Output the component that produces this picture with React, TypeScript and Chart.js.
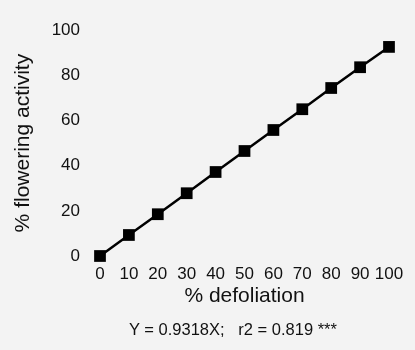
import { useEffect, useRef } from "react";
import { Chart, registerables } from "chart.js";

Chart.register(...registerables);

const defoliation = [0, 10, 20, 30, 40, 50, 60, 70, 80, 90, 100];
const flowering = [0, 9.3, 18.5, 27.8, 37.2, 46.5, 55.8, 65, 74.4, 83.6, 92.6];
const xTickValues = [0, 10, 20, 30, 40, 50, 60, 70, 80, 90, 100];
const yTickValues = [0, 20, 40, 60, 80, 100];
const xTitle = "% defoliation";
const yTitle = "% flowering activity";
const equation = "Y = 0.9318X;\u00a0\u00a0\u00a0r2 = 0.819 ***";

const FONT = "'Liberation Sans', Arial, Helvetica, sans-serif";

export default function App() {
  const ref = useRef<HTMLCanvasElement | null>(null);

  useEffect(() => {
    if (!ref.current) return;
    const chart = new Chart(ref.current, {
      type: "line",
      data: {
        datasets: [
          {
            data: defoliation.map((x, i) => ({ x, y: flowering[i] })),
            borderColor: "#000",
            borderWidth: 2.5,
            backgroundColor: "#000",
            pointStyle: "rect",
            pointRadius: 8.3,
            pointHoverRadius: 8.3,
            pointBackgroundColor: "#000",
            pointBorderWidth: 0,
            tension: 0,
            clip: false as any,
          },
        ],
      },
      options: {
        animation: false,
        responsive: false,
        events: [],
        layout: { padding: { top: 26, right: 26, bottom: 41, left: 0 } },
        plugins: {
          legend: { display: false },
          tooltip: { enabled: false },
        },
        scales: {
          x: {
            type: "linear",
            min: 0,
            max: 100,
            afterBuildTicks: (s: any) => {
              s.ticks = xTickValues.map((v) => ({ value: v }));
            },
            afterFit: (s: any) => {
              s.height = 53;
            },
            grid: { display: false, drawTicks: false },
            border: { display: false },
            ticks: {
              color: "#111",
              padding: 8,
              maxRotation: 0,
              autoSkip: false,
              font: { family: FONT, size: 17 },
            },
            title: {
              display: true,
              text: xTitle,
              color: "#111",
              padding: { top: 0, bottom: 0 },
              font: { family: FONT, size: 21 },
            },
          },
          y: {
            type: "linear",
            min: 0,
            max: 100,
            afterBuildTicks: (s: any) => {
              s.ticks = yTickValues.map((v) => ({ value: v }));
            },
            afterFit: (s: any) => {
              s.width = 100;
            },
            grid: { display: false, drawTicks: false },
            border: { display: false },
            ticks: {
              color: "#111",
              padding: 20,
              autoSkip: false,
              font: { family: FONT, size: 17 },
            },
            title: {
              display: true,
              text: yTitle,
              color: "#111",
              padding: { top: 11, bottom: 0 },
              font: { family: FONT, size: 21 },
            },
          },
        },
      },
    });
    return () => chart.destroy();
  }, []);

  return (
    <div
      style={{
        position: "fixed",
        left: 0,
        top: 0,
        width: 415,
        height: 350,
        background: "#f3f3f3",
        overflow: "hidden",
      }}
    >
      <canvas ref={ref} width={415} height={350} style={{ display: "block" }} />
      <div
        style={{
          position: "absolute",
          left: 233,
          top: 319,
          transform: "translateX(-50%)",
          whiteSpace: "nowrap",
          fontFamily: FONT,
          fontSize: 16.5,
          lineHeight: "20px",
          color: "#111",
        }}
      >
        {equation}
      </div>
    </div>
  );
}
